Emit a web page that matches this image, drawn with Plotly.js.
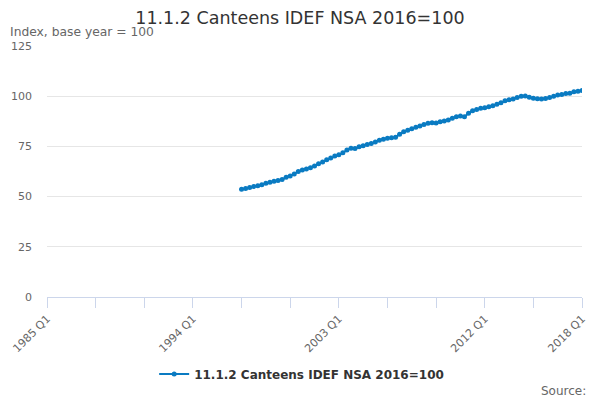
<!DOCTYPE html>
<html>
<head>
<meta charset="utf-8">
<script src="https://cdn.plot.ly/plotly-3.0.1.min.js"></script>
<style>
  body { margin: 0; background: #fff; }
  #chart { width: 600px; height: 400px; }
</style>
</head>
<body>
<div id="chart"></div>
<script>
const seriesName = "11.1.2 Canteens IDEF NSA 2016=100";
const firstYear = 1985;
const lastYear = 2018;
const dataStart = "1997 Q1";

// index values, 1997 Q1 .. 2018 Q1
const values = [
  53.6, 54.0, 54.5, 55.0, 55.4, 55.9, 56.6, 57.2, 57.6, 58.0,
  58.5, 59.6, 60.3, 61.2, 62.5, 63.2, 63.8, 64.4, 65.3, 66.3,
  67.2, 68.3, 69.2, 70.2, 70.8, 71.8, 73.2, 74.1, 74.0, 74.8,
  75.3, 76.0, 76.4, 77.2, 78.1, 78.6, 79.0, 79.3, 79.6, 81.0,
  82.3, 83.0, 83.8, 84.5, 85.2, 85.9, 86.5, 86.8, 86.7, 87.3,
  87.6, 88.1, 89.0, 89.8, 90.1, 89.8, 91.5, 92.8, 93.4, 94.0,
  94.3, 94.8, 95.3, 96.0, 96.8, 97.7, 98.2, 98.6, 99.3, 100.0,
  100.1, 99.5, 99.0, 98.7, 98.6, 98.8, 99.4, 100.0, 100.6, 100.9,
  101.3, 101.5, 102.2, 102.5, 102.8
];

const labelYears = [1985, 1994, 2003, 2012, 2018];
const yTicks = [0, 25, 50, 75, 100, 125];

// quarter labels for the whole axis
const quarters = [];
for (let y = firstYear; y <= lastYear; y++) {
  for (let q = 1; q <= 4; q++) {
    quarters.push(y + " Q" + q);
    if (y === lastYear) break;
  }
}
const startIdx = quarters.indexOf(dataStart);
const xs = quarters.slice(startIdx, startIdx + values.length);

// a tick every 3 years, labelled only on some
const tickvals = [];
const ticktext = [];
for (let i = 0; i < quarters.length; i += 12) {
  tickvals.push(quarters[i]);
  const yr = parseInt(quarters[i]);
  ticktext.push(labelYears.includes(yr) ? quarters[i] : "");
}

const font = "DejaVu Sans, sans-serif";

Plotly.newPlot('chart', [{
  x: xs,
  y: values,
  name: seriesName,
  type: 'scatter',
  mode: 'lines+markers',
  line: { color: '#0a7bc2', width: 2 },
  marker: { color: '#0a7bc2', size: 5 }
}], {
  width: 600,
  height: 400,
  margin: { l: 47, r: 18, t: 46, b: 103 },
  paper_bgcolor: '#fff',
  plot_bgcolor: '#fff',
  font: { family: font, color: '#666', size: 11 },
  title: {
    text: seriesName,
    font: { family: font, size: 17.5, color: '#333' },
    x: 0.5, xanchor: 'center',
    y: 0.955, yanchor: 'middle'
  },
  xaxis: {
    type: 'category',
    categoryorder: 'array',
    categoryarray: quarters,
    range: [0, quarters.length - 1],
    tickmode: 'array',
    tickvals: tickvals,
    ticktext: ticktext,
    tickangle: -45,
    ticks: 'outside',
    ticklen: 10,
    tickcolor: '#ccd6eb',
    showline: true,
    linecolor: '#ccd6eb',
    showgrid: false,
    zeroline: false,
    fixedrange: true,
    tickfont: { family: font, size: 11, color: '#666' }
  },
  yaxis: {
    range: [0, 125],
    tickmode: 'array',
    tickvals: yTicks,
    showgrid: true,
    gridcolor: '#e6e6e6',
    zeroline: false,
    showline: false,
    ticks: '',
    ticklabelstandoff: 14,
    tickfont: { family: font, size: 11, color: '#666' }
  },
  showlegend: true,
  legend: {
    orientation: 'h',
    x: 0.476, xanchor: 'center',
    y: -0.307, yanchor: 'middle',
    font: { family: font, size: 12, color: '#333', weight: 'bold' }
  },
  annotations: [
    {
      text: 'Index, base year = 100',
      xref: 'paper', yref: 'paper',
      x: -0.072, y: 1.056, xanchor: 'left', yanchor: 'middle',
      showarrow: false,
      font: { family: font, size: 12.3, color: '#666' }
    },
    {
      text: 'Source:',
      xref: 'paper', yref: 'paper',
      x: 1.011, y: -0.374, xanchor: 'right', yanchor: 'middle',
      showarrow: false,
      font: { family: font, size: 12, color: '#666' }
    }
  ]
}, { displayModeBar: false, staticPlot: true });
</script>
</body>
</html>
